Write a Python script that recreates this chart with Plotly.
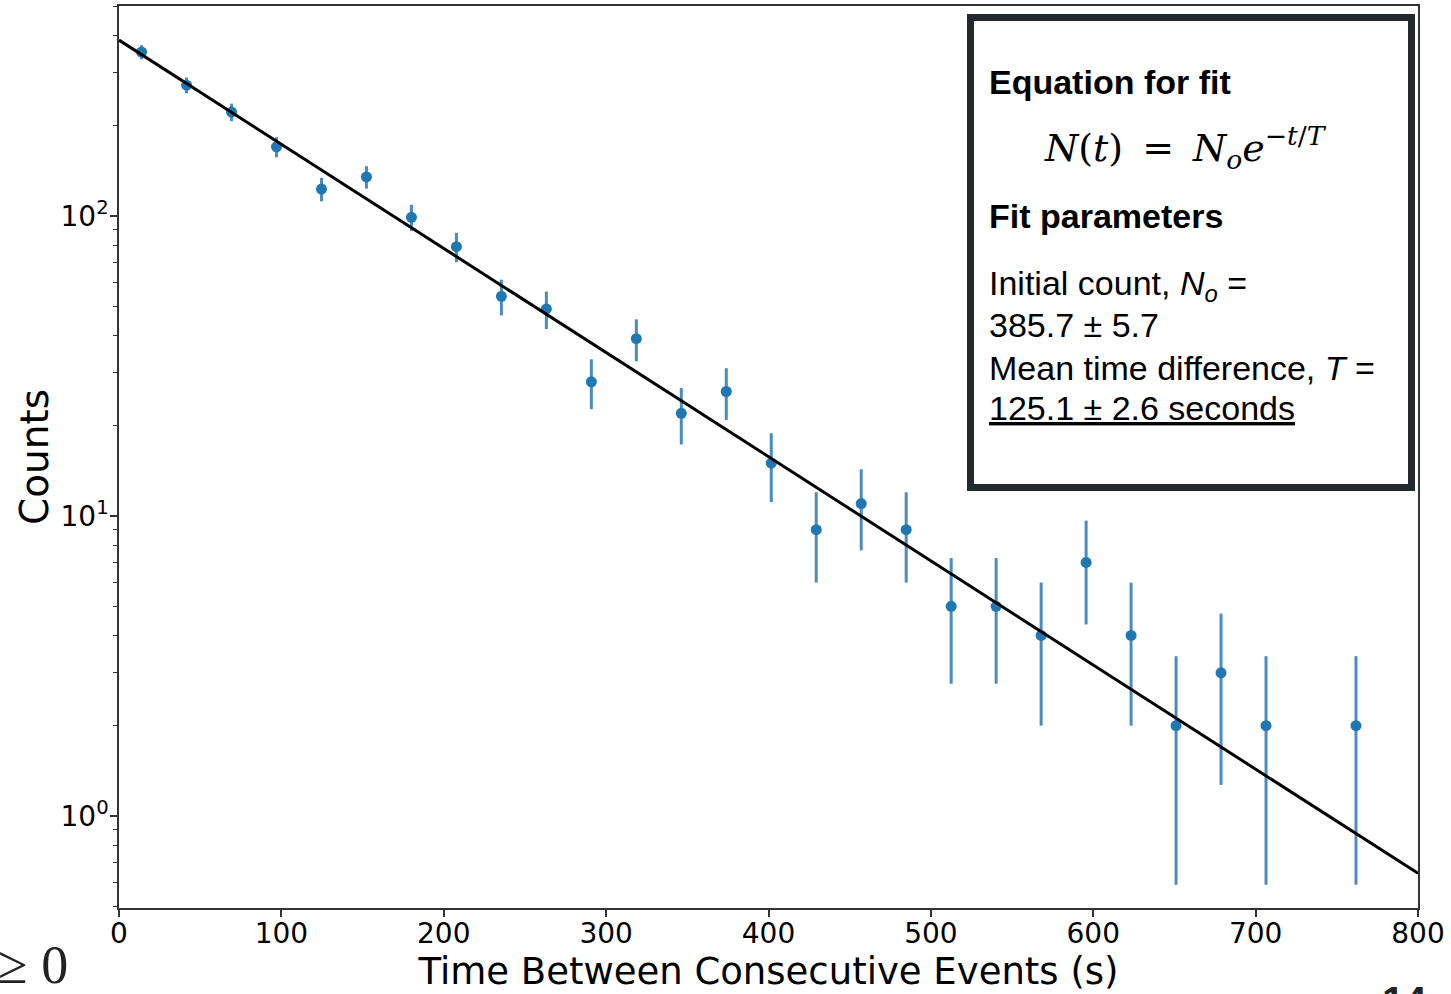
import plotly.graph_objects as go

# ---- data ----
time_s = [13.9, 41.6, 69.3, 97.0, 124.7, 152.4, 180.1, 207.8, 235.5, 263.2,
          290.9, 318.6, 346.3, 374.0, 401.7, 429.4, 457.1, 484.8, 512.5, 540.2,
          567.9, 595.6, 623.3, 651.0, 678.7, 706.4, 761.8]
counts = [352, 273, 222, 170, 123, 135, 99, 79, 54, 49,
          28, 39, 22, 26, 15, 9, 11, 9, 5, 5,
          4, 7, 4, 2, 3, 2, 2]
count_err = [18.8, 16.5, 14.9, 13.0, 11.1, 11.6, 9.95, 8.89, 7.35, 7.0,
             5.29, 6.24, 4.69, 5.10, 3.87, 3.0, 3.32, 3.0, 2.24, 2.24,
             2.0, 2.65, 2.0, 1.41, 1.73, 1.41, 1.41]
fit_t = [0, 800]
fit_counts = [385.7, 0.644]

x_ticks = [0, 100, 200, 300, 400, 500, 600, 700, 800]
y_ticks = [1, 10, 100]
y_ticktext = ["10<sup>0</sup>", "10<sup>1</sup>", "10<sup>2</sup>"]
y_minor_ticks = [0.5, 0.6, 0.7, 0.8, 0.9,
                 2, 3, 4, 5, 6, 7, 8, 9,
                 20, 30, 40, 50, 60, 70, 80, 90,
                 200, 300, 400, 500]

W, H = 1451, 994
L, R, T, B = 119, 33, 6, 86
PW, PH = W - L - R, H - T - B


def px(xp):
    return (xp - L) / PW


def py(yp):
    return (H - B - yp) / PH


fig = go.Figure()
fig.add_trace(go.Scatter(
    x=time_s, y=counts, mode="markers",
    marker=dict(color="#1f77b4", size=11),
    error_y=dict(type="data", array=count_err, color="#4a8cbf", thickness=3, width=0),
    showlegend=False,
))
fig.add_trace(go.Scatter(
    x=fit_t, y=fit_counts, mode="lines",
    line=dict(color="black", width=3), showlegend=False,
))

axis_font = dict(family="DejaVu Sans", size=28, color="black")
fig.update_xaxes(
    range=[0, 800], tickvals=x_ticks, ticks="outside", ticklen=7, tickwidth=1.5,
    tickcolor="#333", showline=True, linecolor="#333", linewidth=1.5, mirror=True,
    showgrid=False, zeroline=False, tickfont=axis_font, automargin=False,
    ticklabelstandoff=-7,
    title=dict(text="Time Between Consecutive Events (s)",
               font=dict(family="DejaVu Sans", size=37, color="black"), standoff=2),
)
fig.update_yaxes(
    type="log", range=[-0.3067, 2.70], tickvals=y_ticks, ticktext=y_ticktext,
    ticks="outside", ticklen=7, tickwidth=1.5, tickcolor="#333",
    minor=dict(tickmode="array", tickvals=y_minor_ticks, ticks="outside", ticklen=4,
               tickwidth=1, tickcolor="#333", showgrid=False),
    showline=True, linecolor="#333", linewidth=1.5, mirror=True,
    showgrid=False, zeroline=False, tickfont=axis_font, automargin=False,
    ticklabelstandoff=-4,
    title=dict(text="Counts", font=dict(family="DejaVu Sans", size=39, color="black"),
               standoff=0),
)

# text box frame
fig.add_shape(type="rect", xref="paper", yref="paper",
              x0=px(970.5), x1=px(1411.5), y0=py(487.5), y1=py(17.5),
              line=dict(color="#222a2c", width=7), fillcolor="white", layer="above")

sans = "Liberation Sans, Arial, sans-serif"
serif = "DejaVu Serif, Liberation Serif, serif"
lines = [
    ("<b>Equation for fit</b>", 987, 82, 34, sans),
    ("<i>N</i>(<i>t</i>)\u2002=\u2002<i>N<sub>o</sub>e</i><sup>\u2212<i>t</i>/<i>T</i></sup>", 1042, 147, 38, serif),
    ("<b>Fit parameters</b>", 987, 216, 34, sans),
    ("Initial count, <i>N<sub>o</sub></i> =", 987, 285, 34, sans),
    ("385.7 \u00b1 5.7", 987, 325, 34, sans),
    ("Mean time difference, <i>T</i> =", 987, 368, 34, sans),
    ("<u>125.1 \u00b1 2.6 seconds</u>", 987, 408, 34, sans),
]
for txt, xx, yy, sz, fam in lines:
    fig.add_annotation(text=txt, xref="paper", yref="paper", x=px(xx), y=py(yy),
                       xanchor="left", yanchor="middle", showarrow=False,
                       font=dict(family=fam, size=sz, color="black"), align="left")

# page fragments around the chart
fig.add_annotation(text="\u2265 0", xref="paper", yref="paper", x=px(-4), y=py(965),
                   xanchor="left", yanchor="middle", showarrow=False,
                   font=dict(family="Liberation Serif, serif", size=54, color="#222"))
fig.add_annotation(text="<b>14</b>", xref="paper", yref="paper", x=px(1380), y=py(977),
                   xanchor="left", yanchor="top", showarrow=False,
                   font=dict(family=sans, size=40, color="#222"))

fig.update_layout(
    width=W, height=H, margin=dict(l=L, r=R, t=T, b=B, autoexpand=False),
    paper_bgcolor="white", plot_bgcolor="white",
)
fig.write_html("out.html", config={"displayModeBar": False},
               post_script="document.body.style.margin='0px';document.body.style.overflow='hidden';")
